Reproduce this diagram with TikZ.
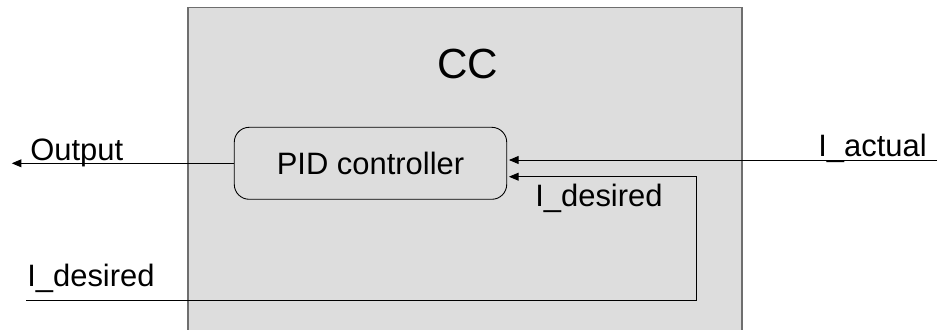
\documentclass[tikz,border=0pt]{standalone}
\usepackage{fontspec}
\setmainfont{Liberation Sans}
\usetikzlibrary{positioning, arrows.meta}
\definecolor{ccgray}{HTML}{DDDDDD}
\definecolor{ccedge}{HTML}{6E6E6E}

\begin{document}
\begin{tikzpicture}[x=0.02cm, y=0.02cm,
    sig/.style={font=\fontsize{17.6}{20}\selectfont, inner sep=0pt},
    block/.style={draw, fill=ccgray, rounded corners=8.5pt, line width=0.5pt,
        minimum width=5.45cm, minimum height=1.44cm, font=\fontsize{17.6}{20}\selectfont},
    signal/.style={-{Triangle[length=5.5pt, width=4.5pt]}, line width=0.5pt, shorten >=1pt}]
    \useasboundingbox (0,0) rectangle (940,329);
    \clip (0,0) rectangle (940,329);
    \fill[ccgray] (188,-5) rectangle (742,321.5);
    \draw[ccedge, line width=0.9pt] (188,-5) -- (188,321.5) -- (742,321.5) -- (742,-5);
    \node[font=\fontsize{24}{27}\selectfont, anchor=base, inner sep=0pt] (cc) at (467.5,251) {CC};
    \node[block] (pid) at (370.5,165.7) {PID controller};
    \coordinate (out) at (10,165.7);
    \coordinate (iact) at (937,169);
    \coordinate (ides) at (26,29);
    \coordinate (turn) at (696,152.3);
    \draw[signal] (pid.west) -- (out);
    \draw[signal] (iact) -- (pid.east |- iact);
    \draw[signal] (ides) -| (turn) -- (pid.east |- turn);
    \node[sig, anchor=base west] (outlbl) at (30,168.3) {Output};
    \node[sig, anchor=base west] (ideslbl) at (27,42.3) {I\_desired};
    \node[sig, anchor=base east] (iactlbl) at (927,172.3) {I\_actual};
    \node[sig, anchor=base west] (fblbl) at (535,122.3) {I\_desired};
\end{tikzpicture}
\end{document}
